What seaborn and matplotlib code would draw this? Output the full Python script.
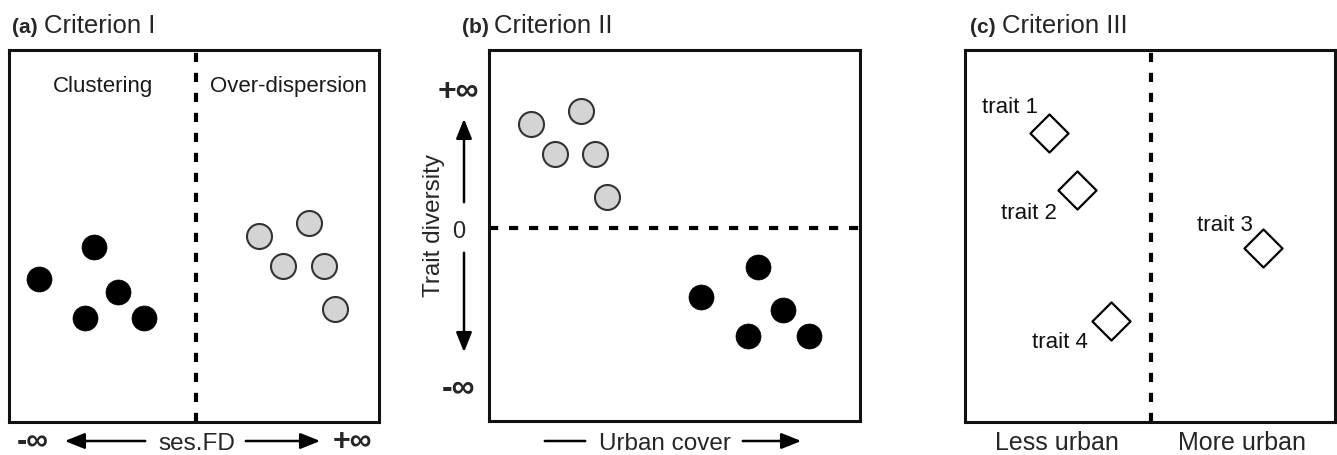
import matplotlib
matplotlib.use("Agg")
import matplotlib.pyplot as plt
import seaborn as sns

# (a) Criterion I - two assemblages along ses.FD
clust_x = [0.8, 2.3, 2.95, 2.05, 3.65]
clust_y = [3.85, 4.7, 3.5, 2.8, 2.8]
over_x = [6.75, 8.1, 7.4, 8.5, 8.8]
over_y = [5.0, 5.35, 4.2, 4.2, 3.05]

# (b) Criterion II - trait diversity vs urban cover
hi_x = [1.13, 2.48, 1.78, 2.86, 3.18]
hi_y = [2.80, 3.15, 1.99, 1.99, 0.84]
lo_x = [7.25, 5.71, 7.92, 6.98, 8.63]
lo_y = [-1.05, -1.86, -2.21, -2.91, -2.91]
div_ticks = [3.8, 0, -4.2]
div_labels = ['+∞', '0', '-∞']

# (c) Criterion III - single traits
traits = ['trait 1', 'trait 2', 'trait 3', 'trait 4']
trait_x = [2.27, 3.03, 8.05, 3.95]
trait_y = [7.77, 6.24, 4.68, 2.72]

sns.set_style('white')
plt.rcParams['font.family'] = ['Liberation Sans', 'DejaVu Sans']

W, H = 1337, 456
fig = plt.figure(figsize=(W / 100, H / 100), dpi=100)


def px_axes(left, top, right, bottom):
    return fig.add_axes([left / W, 1 - bottom / H, (right - left) / W, (bottom - top) / H])


def frame(ax):
    for sp in ax.spines.values():
        sp.set_visible(True)
        sp.set_linewidth(2.2)
        sp.set_color('#111111')


def title(x, txt):
    fig.text(x / W, 1 - 33 / H, '(' + txt[0] + ')', fontsize=15, fontweight='bold', va='baseline')
    fig.text((x + 32) / W, 1 - 33 / H, txt[1], fontsize=18.5, va='baseline')


dash = dict(color='black', lw=3.0, dashes=(2.2, 2.6))
dark = dict(color='black', edgecolor='black', linewidth=0.5, s=324, legend=False)
grey = dict(color='#d4d4d4', edgecolor='#333333', linewidth=1.5, s=324, legend=False)
arr = dict(arrowstyle='-|>,head_length=1.0,head_width=0.4', color='black', lw=1.8)
line = dict(arrowstyle='-', color='black', lw=1.8)

yb = 1 - 450 / H
ya = 1 - 442 / H

# ---- panel a
ax = px_axes(9, 51, 379, 423)
ax.set_xlim(0, 10)
ax.set_ylim(0, 10)
ax.axvline(5.05, **dash)
sns.scatterplot(x=clust_x, y=clust_y, ax=ax, **dark)
sns.scatterplot(x=over_x, y=over_y, ax=ax, **grey)
ax.text(2.55, 9.05, 'Clustering', fontsize=16, ha='center', va='center', color='#1a1a1a')
ax.text(7.55, 9.05, 'Over-dispersion', fontsize=16, ha='center', va='center', color='#1a1a1a')
ax.set_xticks([])
ax.set_yticks([])
frame(ax)
title(12, ['a', 'Criterion I'])

fig.text(33 / W, yb, '-∞', fontsize=22, ha='center', va='baseline', fontweight='bold')
fig.text(197 / W, yb, 'ses.FD', fontsize=17.5, ha='center', va='baseline')
fig.text(353 / W, yb, '+∞', fontsize=22, ha='center', va='baseline', fontweight='bold')
fig.add_artist(matplotlib.patches.FancyArrowPatch((148 / W, ya), (62 / W, ya), transform=fig.transFigure,
                                                  mutation_scale=12, **arr))
fig.add_artist(matplotlib.patches.FancyArrowPatch((243 / W, ya), (323 / W, ya), transform=fig.transFigure,
                                                  mutation_scale=12, **arr))

# ---- panel b
ax = px_axes(489, 51, 860, 422)
ax.set_xlim(0, 10)
ax.set_ylim(-5.2, 4.8)
ax.axhline(0, **dash)
sns.scatterplot(x=hi_x, y=hi_y, ax=ax, **grey)
sns.scatterplot(x=lo_x, y=lo_y, ax=ax, **dark)
ax.set_xticks([])
ax.set_yticks(div_ticks)
ax.set_yticklabels(div_labels)
ax.tick_params(axis='y', length=0, pad=22)
for t, lab in zip(ax.get_yticklabels(), div_labels):
    t.set_horizontalalignment('center')
    if lab != '0':
        t.set_fontsize(23)
        t.set_fontweight('bold')
    else:
        t.set_fontsize(17)
ax.set_ylabel('Trait diversity', fontsize=17.5)
ax.yaxis.set_label_coords(-44 / 371, 0.53)
frame(ax)
title(462, ['b', 'Criterion II'])

fig.add_artist(matplotlib.patches.FancyArrowPatch((464 / W, 1 - 206 / H), (464 / W, 1 - 117 / H),
                                                  transform=fig.transFigure, mutation_scale=12, **arr))
fig.add_artist(matplotlib.patches.FancyArrowPatch((464 / W, 1 - 251 / H), (464 / W, 1 - 356 / H),
                                                  transform=fig.transFigure, mutation_scale=12, **arr))
fig.text(665 / W, yb, 'Urban cover', fontsize=17.5, ha='center', va='baseline')
fig.add_artist(matplotlib.patches.FancyArrowPatch((542 / W, ya), (588 / W, ya), transform=fig.transFigure,
                                                  **line))
fig.add_artist(matplotlib.patches.FancyArrowPatch((740 / W, ya), (804 / W, ya), transform=fig.transFigure,
                                                  mutation_scale=12, **arr))

# ---- panel c
ax = px_axes(965, 51, 1335, 423)
ax.set_xlim(0, 10)
ax.set_ylim(0, 10)
ax.axvline(5.03, **dash)
sns.scatterplot(x=trait_x, y=trait_y, ax=ax, marker='D', s=376, color='white',
                edgecolor='black', linewidth=1.6, legend=False)
offsets = [(-28, 19), (-35, -16), (-27, 17), (-37, -15)]
for name, x, y, off in zip(traits, trait_x, trait_y, offsets):
    ax.annotate(name, (x, y), xytext=off, textcoords='offset points', fontsize=16,
                ha='center', va='center', color='#111111')
ax.set_xticks([])
ax.set_yticks([])
frame(ax)
title(970, ['c', 'Criterion III'])
fig.text(1057 / W, 1 - 450 / H, 'Less urban', fontsize=18, ha='center', va='baseline')
fig.text(1242 / W, 1 - 450 / H, 'More urban', fontsize=18, ha='center', va='baseline')

fig.savefig('out.png', dpi=100)
